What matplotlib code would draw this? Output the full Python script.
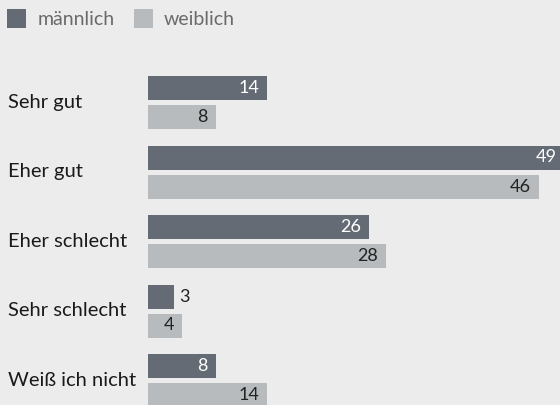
import matplotlib
matplotlib.use("Agg")
import numpy as np
import matplotlib.pyplot as plt
from matplotlib.patches import Patch
from matplotlib import transforms

categories = ["Sehr gut", "Eher gut", "Eher schlecht", "Sehr schlecht", "Weiß ich nicht"]
maennlich = [14, 49, 26, 3, 8]
weiblich = [8, 46, 28, 4, 14]
series_labels = ["männlich", "weiblich"]

DARK = "#646b74"
LIGHT = "#b7bbbd"
BG = "#ececec"
FONT = ["Lato", "DejaVu Sans"]

plt.rcParams["font.family"] = FONT

W, H = 560, 405
fig = plt.figure(figsize=(W / 100, H / 100), dpi=100, facecolor=BG)
ax = fig.add_axes([148 / W, 0, 1 - 148 / W, 1])
ax.set_facecolor(BG)

px_per_unit = 8.5
xmax = (W - 148) / px_per_unit
ax.set_xlim(0, xmax)
# group centre of first category at 102.5 px from top, 69.5 px between groups
spacing = 69.5
ax.set_ylim((H - 102.5) / spacing, -102.5 / spacing)

y = np.arange(len(categories))
bar_h = 24 / spacing
off = 14.5 / spacing
ax.barh(y - off, maennlich, height=bar_h, color=DARK)
ax.barh(y + off, weiblich, height=bar_h, color=LIGHT)

for i in range(len(categories)):
    for val, yy, inside_col in ((maennlich[i], y[i] - off, "white"), (weiblich[i], y[i] + off, "#222222")):
        if val >= 4:
            ax.annotate(str(val), (val, yy), xytext=(-8, 0), textcoords="offset pixels",
                        ha="right", va="center", fontsize=13, color=inside_col,
                        annotation_clip=False)
        else:
            ax.annotate(str(val), (val, yy), xytext=(6, 0), textcoords="offset pixels",
                        ha="left", va="center", fontsize=13, color="#222222")

trans = transforms.blended_transform_factory(fig.transFigure, ax.transData)
for i, cat in enumerate(categories):
    ax.text(8 / W, y[i], cat, transform=trans, ha="left", va="center",
            fontsize=14.5, color="#1a1a1a")

ax.axis("off")

handles = [Patch(facecolor=DARK, label=series_labels[0]),
           Patch(facecolor=LIGHT, label=series_labels[1])]
fig.legend(handles=handles, loc="upper left", bbox_to_anchor=(7 / W, 1 - 9 / H),
           ncol=2, frameon=False, fontsize=14, labelcolor="#6a6a6a",
           handlelength=1.0, handleheight=1.13, handletextpad=0.55, columnspacing=1.0,
           borderaxespad=0, borderpad=0)

fig.savefig("out.png", dpi=100, facecolor=BG)
